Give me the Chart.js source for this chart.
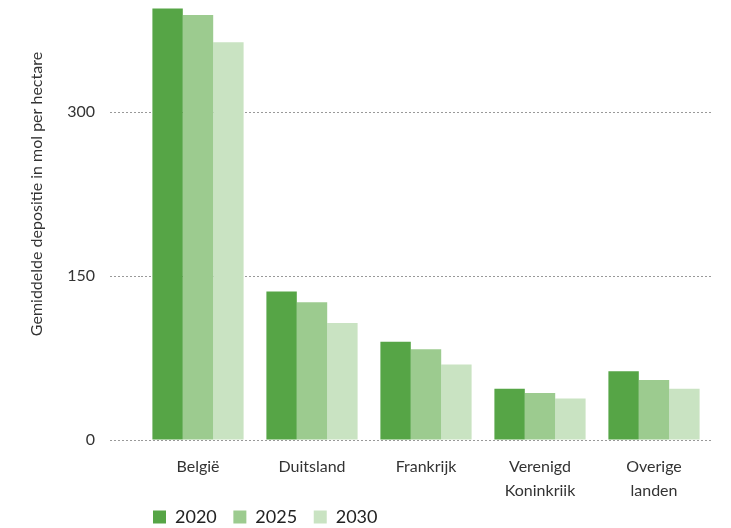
<!DOCTYPE html>
<html lang="nl">
<head>
    <meta charset="UTF-8">
    <title>Gemiddelde depositie</title>
    <script src="https://cdn.jsdelivr.net/npm/chart.js"></script>
    <style>
        html, body { margin: 0; padding: 0; background: #fff; }
        #wrap { width: 731px; height: 528px; }
    </style>
</head>
<body>
    <div id="wrap"><canvas id="chart"></canvas></div>

    <script>
        // Data
        const categories = ['België', 'Duitsland', 'Frankrijk', ['Verenigd', 'Koninkrijk'], ['Overige', 'landen']];
        const years = ['2020', '2025', '2030'];
        const values2020 = [395, 136, 90, 47, 63];
        const values2025 = [389, 126, 83, 43, 55];
        const values2030 = [364, 107, 69, 38, 47];
        const yTicks = [0, 150, 300];
        const yTitle = 'Gemiddelde depositie in mol per hectare';

        const colors = ['#56a546', '#9ccb8f', '#c9e3c2'];
        const fontFamily = 'Lato, "Noto Sans", sans-serif';

        // Draw the y-axis title at a fixed spot, like the original
        const yTitlePlugin = {
            id: 'yTitle',
            afterDraw(chart) {
                const ctx = chart.ctx;
                ctx.save();
                ctx.translate(37, 194);
                ctx.rotate(-Math.PI / 2);
                ctx.font = '16px ' + fontFamily;
                ctx.fillStyle = '#333';
                ctx.textAlign = 'center';
                ctx.textBaseline = 'middle';
                ctx.fillText(yTitle, 0, 0);
                ctx.restore();
            }
        };

        new Chart(document.getElementById('chart'), {
            type: 'bar',
            data: {
                labels: categories,
                datasets: [
                    { label: years[0], data: values2020, backgroundColor: colors[0] },
                    { label: years[1], data: values2025, backgroundColor: colors[1] },
                    { label: years[2], data: values2030, backgroundColor: colors[2] }
                ]
            },
            options: {
                responsive: true,
                maintainAspectRatio: false,
                animation: false,
                categoryPercentage: 0.8,
                barPercentage: 1.0,
                layout: { autoPadding: false, padding: { left: 0, right: 20, top: 3, bottom: -8 } },
                plugins: {
                    tooltip: { enabled: false },
                    legend: {
                        position: 'bottom',
                        align: 'start',
                        fullSize: false,
                        labels: {
                            boxWidth: 13,
                            boxHeight: 13,
                            padding: 12,
                            color: '#222',
                            font: { family: fontFamily, size: 18 },
                            generateLabels: chart => Chart.defaults.plugins.legend.labels.generateLabels(chart)
                                .map(l => ({ ...l, text: l.text + ' ' }))
                        }
                    }
                },
                scales: {
                    x: {
                        afterFit: s => { s.height = 56; },
                        grid: { display: false },
                        border: { display: false },
                        ticks: {
                            color: '#333',
                            padding: 7,
                            font: { family: fontFamily, size: 16, lineHeight: 1.5 }
                        }
                    },
                    y: {
                        min: 0,
                        max: 400,
                        afterFit: s => { s.width = 141; s.paddingTop = 0; s.paddingBottom = 0; },
                        afterBuildTicks: s => { s.ticks = yTicks.map(v => ({ value: v })); },
                        border: { display: false, dash: [2, 2] },
                        grid: {
                            color: '#999',
                            lineWidth: 1,
                            tickBorderDash: [2, 2],
                            tickColor: '#999',
                            tickLength: 31
                        },
                        ticks: {
                            color: '#333',
                            padding: 15,
                            font: { family: fontFamily, size: 16 }
                        }
                    }
                }
            },
            plugins: [yTitlePlugin]
        });
    </script>
</body>
</html>
